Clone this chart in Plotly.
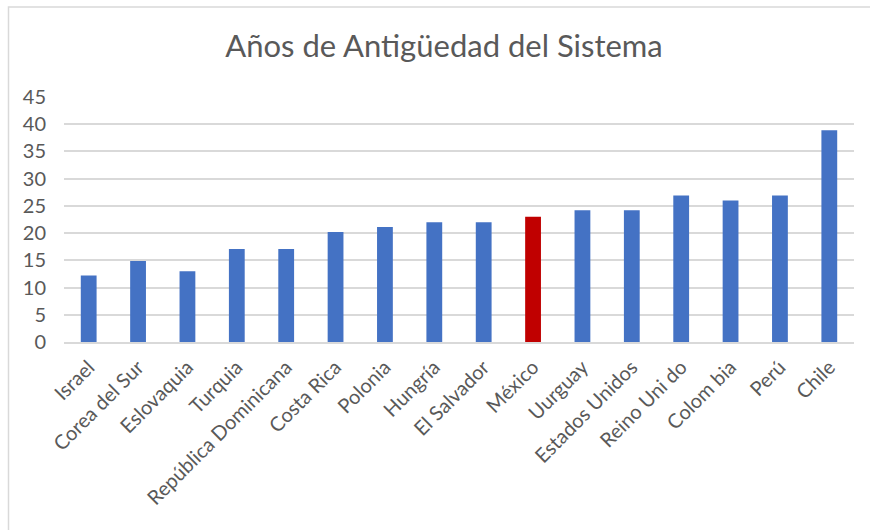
import plotly.graph_objects as go

paises = ["Israel", "Corea del Sur", "Eslovaquia", "Turquia", "República Dominicana",
          "Costa Rica", "Polonia", "Hungría", "El Salvador", "México", "Uurguay",
          "Estados Unidos", "Reino Uni do", "Colom bia", "Perú", "Chile"]
anios = [12.2, 14.9, 13.0, 17.1, 17.1, 20.2, 21.1, 22.0, 22.0, 23.0, 24.2, 24.2, 26.9, 26.0, 26.9, 38.9]
resaltado = "México"

azul = "#4472C4"
rojo = "#C00000"
colores = [rojo if p == resaltado else azul for p in paises]

fig = go.Figure(go.Bar(x=paises, y=anios, marker=dict(color=colores, line=dict(width=0)),
                       width=0.32))

W, H = 870, 530
ml, mr, mt, mb = 64, W - 854, 97, H - 342
pw, ph = W - ml - mr, H - mt - mb

def px_to_paper_x(p):
    return (p - ml) / pw

def px_to_paper_y(p):
    return (H - mb - p) / ph

fig.update_layout(
    width=W, height=H,
    margin=dict(l=ml, r=mr, t=mt, b=mb),
    paper_bgcolor="white", plot_bgcolor="white",
    showlegend=False,
    title=dict(text="Años de Antigüedad del Sistema", x=444 / W, xanchor="center",
               y=1 - 46 / H, yanchor="middle",
               font=dict(family="Lato", size=31, color="#595959")),
    font=dict(family="Lato", color="#595959"),
    bargap=0.67,
    shapes=[dict(type="rect", xref="paper", yref="paper",
                 x0=px_to_paper_x(8.5), x1=px_to_paper_x(880),
                 y0=px_to_paper_y(540), y1=px_to_paper_y(7),
                 line=dict(color="#d9d9d9", width=1.5), fillcolor="rgba(0,0,0,0)",
                 layer="below")],
)
fig.update_yaxes(range=[0, 45], dtick=5, showgrid=True, gridcolor="#d9d9d9", gridwidth=1.5,
                 zeroline=False, showline=False, ticks="",
                 tickfont=dict(family="Lato", size=20, color="#595959"),
                 ticklabelstandoff=17)
fig.update_xaxes(showline=True, linecolor="#d9d9d9", linewidth=1.5, ticks="",
                 tickangle=-45, ticklabelstandoff=4,
                 tickfont=dict(family="Lato", size=20, color="#595959"))

fig.write_html("out.html", config={"displayModeBar": False},
               post_script="document.body.style.margin='0';")
